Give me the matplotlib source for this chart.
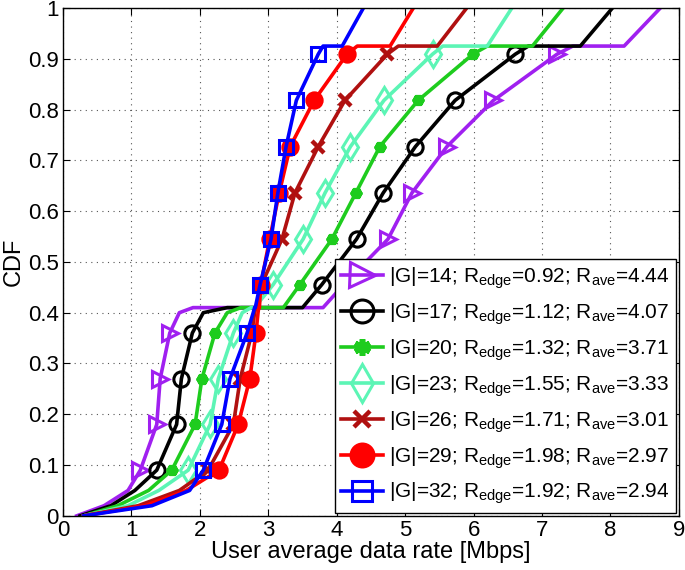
import numpy as np
import matplotlib
matplotlib.use('Agg')
import matplotlib.pyplot as plt

plt.rcParams['font.family'] = ['Liberation Sans', 'DejaVu Sans']
plt.rcParams['mathtext.fontset'] = 'custom'
plt.rcParams['mathtext.rm'] = 'Liberation Sans'
plt.rcParams['mathtext.it'] = 'Liberation Sans'

# CDF levels shared by all curves (plateaus repeat a level)
cdf = [0, 0.02, 0.05, 0.09, 0.18, 0.27, 0.36, 0.40, 0.41, 0.41, 0.455,
       0.545, 0.636, 0.727, 0.818, 0.909, 0.925, 0.925, 1.0]
mark_idx = [3, 4, 5, 6, 10, 11, 12, 13, 14, 15]

rate_g14 = [0.2, 0.6, 0.95, 1.13, 1.37, 1.42, 1.56, 1.7, 1.9, 3.8, 4.1,
            4.75, 5.1, 5.61, 6.29, 7.22, 7.45, 8.2, 8.73]
rate_g17 = [0.25, 0.7, 1.05, 1.37, 1.66, 1.73, 1.89, 2.05, 2.4, 3.5, 3.78,
            4.29, 4.68, 5.15, 5.73, 6.61, 6.8, 7.56, 8.03]
rate_g20 = [0.3, 0.8, 1.25, 1.59, 1.93, 2.03, 2.22, 2.4, 2.6, 3.22, 3.46,
            3.93, 4.28, 4.63, 5.19, 5.99, 6.2, 6.86, 7.31]
rate_g23 = [0.3, 0.95, 1.4, 1.83, 2.15, 2.27, 2.49, 2.62, 2.75, 2.8, 3.07,
            3.51, 3.83, 4.2, 4.69, 5.4, 5.55, 6.2, 6.56]
rate_g26 = [0.3, 1.1, 1.7, 2.12, 2.49, 2.59, 2.76, 2.8, 2.82, 2.84, 2.9,
            3.2, 3.39, 3.73, 4.12, 4.74, 4.9, 5.47, 5.9]
rate_g29 = [0.3, 1.2, 1.8, 2.28, 2.56, 2.73, 2.82, 2.85, 2.86, 2.87, 2.89,
            3.02, 3.16, 3.32, 3.67, 4.15, 4.3, 4.78, 5.12]
rate_g32 = [0.3, 1.3, 1.85, 2.05, 2.32, 2.44, 2.69, 2.78, 2.8, 2.81, 2.88,
            3.04, 3.14, 3.26, 3.41, 3.73, 3.8, 4.08, 4.39]

group_sizes = [14, 17, 20, 23, 26, 29, 32]
r_edge = ['0.92', '1.12', '1.32', '1.55', '1.71', '1.98', '1.92']
r_ave = ['4.44', '4.07', '3.71', '3.33', '3.01', '2.97', '2.94']

rates = [rate_g14, rate_g17, rate_g20, rate_g23, rate_g26, rate_g29, rate_g32]
colors = ['#A020F0', '#000000', '#1ECC1E', '#5CF5B5', '#B01010', '#FF0000', '#0000FF']
markers = ['>', 'o', (6, 2, 0), 'd', 'x', 'o', 's']
filled = [False, False, True, False, True, True, False]
msizes = [12, 11, 8, 13, 8, 11, 10]
mews = [2.2, 2.2, 4.0, 2.2, 3.2, 2.2, 2.2]

fig = plt.figure(figsize=(6.85, 5.7), dpi=100)
ax = fig.add_axes([0.092, 0.095, 0.899, 0.891])

for g, re_, ra, x, c, m, f, ms, mw in zip(group_sizes, r_edge, r_ave, rates,
                                           colors, markers, filled, msizes, mews):
    lab = r'|G|=%d; R$_{\rm edge}$=%s; R$_{\rm ave}$=%s' % (g, re_, ra)
    ax.plot(x, cdf, color=c, lw=2.6, marker=m, markersize=ms,
            markerfacecolor=c if f else 'none', markeredgecolor=c,
            markeredgewidth=mw, markevery=mark_idx, label=lab)

ax.set_xlim(0, 9)
ax.set_ylim(0, 1)
ax.set_xticks(range(10))
ax.set_yticks(np.arange(0, 1.01, 0.1))
ax.set_yticklabels(['0', '0.1', '0.2', '0.3', '0.4', '0.5', '0.6', '0.7', '0.8', '0.9', '1'])
ax.tick_params(direction='in', labelsize=16, top=True, right=True, length=5, pad=3)
ax.grid(True, linestyle=(0, (1, 4)), color='#555555', lw=0.8)
for s in ax.spines.values():
    s.set_linewidth(1.0)

ax.set_xlabel('User average data rate [Mbps]', fontsize=17, labelpad=0)
ax.set_ylabel('CDF', fontsize=17, labelpad=2)

leg = ax.legend(loc='lower right', fontsize=15, handlelength=2.0,
                borderaxespad=0.15, labelspacing=0.5, handletextpad=0.3,
                fancybox=False, framealpha=1, edgecolor='black',
                borderpad=0.3, markerscale=1.5)
leg.get_frame().set_linewidth(1.0)

fig.savefig('out.png', dpi=100)
